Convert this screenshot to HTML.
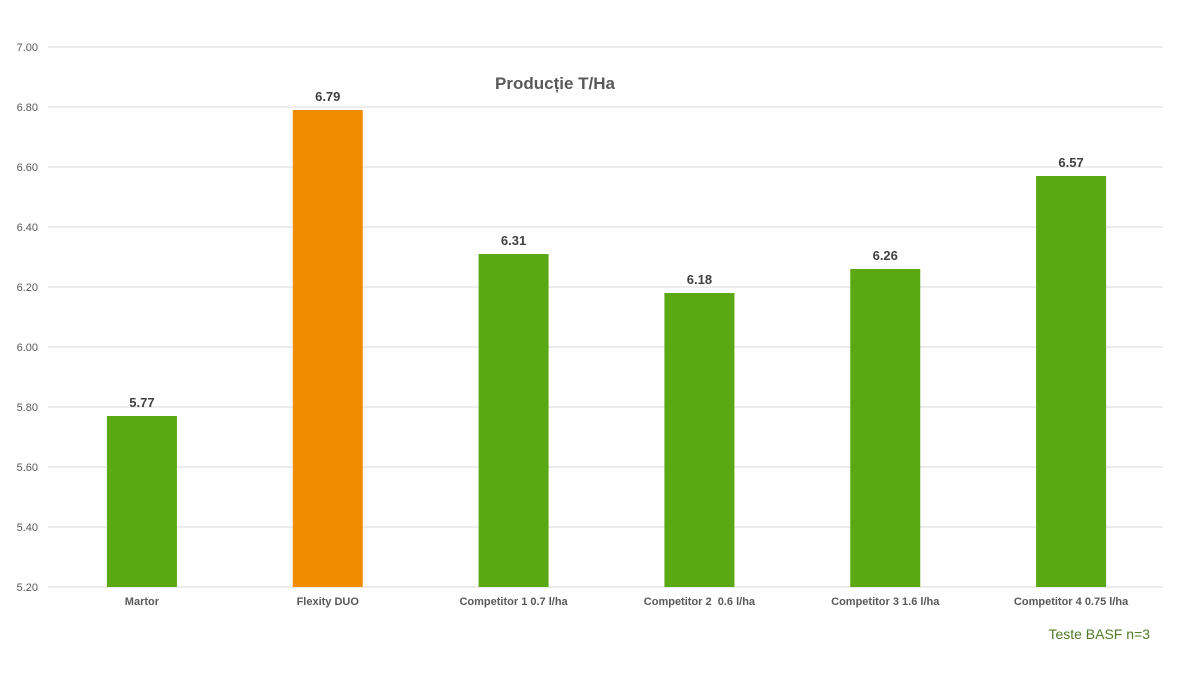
<!DOCTYPE html>
<html><head><meta charset="utf-8"><style>
html,body{margin:0;padding:0;background:#fff;}
svg{display:block;font-family:"Liberation Sans",Arial,sans-serif;}
</style></head><body>
<svg id="chart" width="1200" height="675" viewBox="0 0 1200 675" xmlns="http://www.w3.org/2000/svg">
<text x="555" y="89" text-anchor="middle" font-size="17" font-weight="bold" fill="#595959">Producție T/Ha</text>
<g id="grid"></g>
<g id="bars"></g>
<text x="1150" y="639" text-anchor="end" font-size="14" fill="#4f7a28">Teste BASF n=3</text>
</svg>
<script>
const categories = ["Martor","Flexity DUO","Competitor 1 0.7 l/ha","Competitor 2  0.6 l/ha","Competitor 3 1.6 l/ha","Competitor 4 0.75 l/ha"];
const values = [5.77,6.79,6.31,6.18,6.26,6.57];
const valueLabels = ["5.77","6.79","6.31","6.18","6.26","6.57"];
const highlight = [false,true,false,false,false,false];
const yTicks = [5.2,5.4,5.6,5.8,6.0,6.2,6.4,6.6,6.8,7.0];

(function(){
const NS="http://www.w3.org/2000/svg";
const plotLeft=48,plotRight=1163,plotTop=47,plotBottom=587,yMin=5.2,yMax=7.0;
function yScale(v){return plotBottom-(v-yMin)/(yMax-yMin)*(plotBottom-plotTop);}
const band=(plotRight-plotLeft)/categories.length;
function xc(i){return plotLeft+band*(i+0.5)+1;}
function mk(tag,attrs,parent){const e=document.createElementNS(NS,tag);for(const k in attrs)e.setAttribute(k,attrs[k]);parent.appendChild(e);return e;}
const grid=document.getElementById('grid'),bars=document.getElementById('bars');
yTicks.forEach(t=>{
  const l=mk('line',{x1:plotLeft,x2:plotRight,y1:yScale(t),y2:yScale(t),stroke:'#d9d9d9','stroke-width':1},grid);
  
  
  const tx=mk('text',{x:38,y:yScale(t)+4,'text-anchor':'end','font-size':11,fill:'#595959'},grid);
  tx.textContent=t.toFixed(2);
  
  
});
const bw=70;
values.forEach((v,i)=>{
  const r=mk('rect',{x:xc(i)-bw/2,y:yScale(v),width:bw,height:plotBottom-yScale(v),fill:highlight[i]?'#f08c00':'#5aa813'},bars);
  
  
  const lb=mk('text',{x:xc(i),y:yScale(v)-9,'text-anchor':'middle','font-size':13,'font-weight':'bold',fill:'#404040'},bars);
  lb.textContent=valueLabels[i];
  
  
  const cl=mk('text',{x:xc(i),y:605,'text-anchor':'middle','font-size':11,'font-weight':'bold',fill:'#595959',style:'white-space:pre'},bars);
  cl.textContent=categories[i];
  
  
});
})();
</script>
</body></html>
